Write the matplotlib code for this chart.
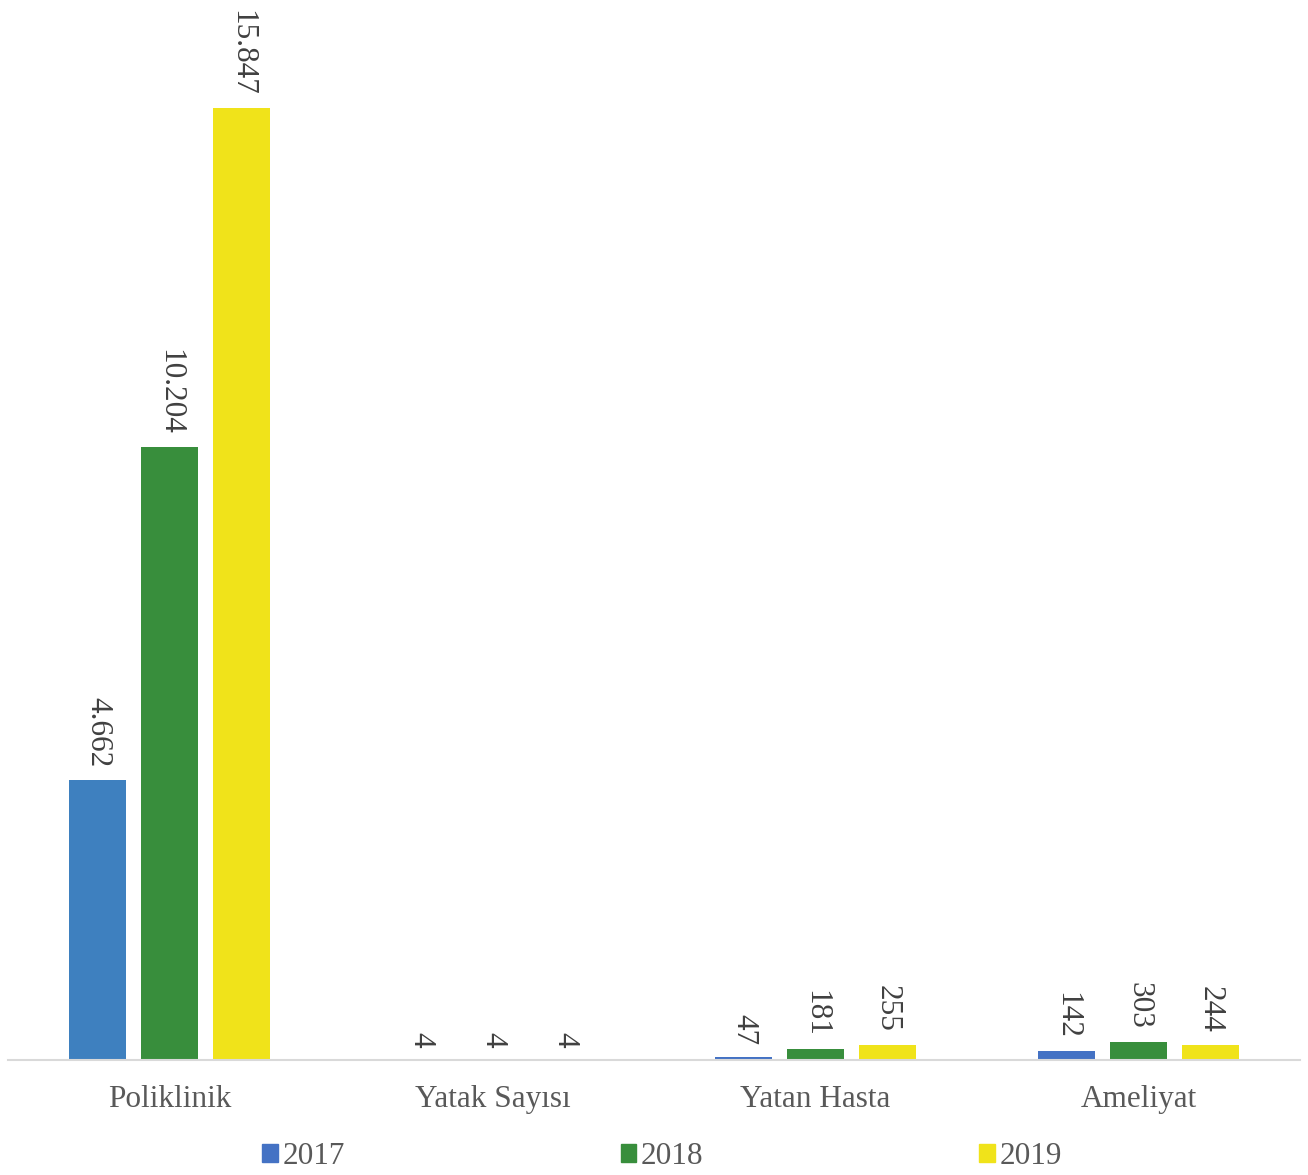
import numpy as np
import matplotlib
matplotlib.use("Agg")
import matplotlib.pyplot as plt

# data
categories = ["Poliklinik", "Yatak Sayısı", "Yatan Hasta", "Ameliyat"]
years = ["2017", "2018", "2019"]
values_2017 = [4662, 4, 47, 142]
values_2018 = [10204, 4, 181, 303]
values_2019 = [15847, 4, 255, 244]
series = [values_2017, values_2018, values_2019]

colors = ["#4472C4", "#388E3C", "#F0E31A"]
# the first blue bar is drawn in a slightly different shade in the original
bar_colors_2017 = ["#3E80BF", "#4472C4", "#4472C4", "#4472C4"]

plt.rcParams["font.family"] = ["Liberation Serif", "DejaVu Serif"]

fig = plt.figure(figsize=(13.08, 11.75), dpi=100)
ax = fig.add_axes([8 / 1308, 115 / 1175, 1292 / 1308, 1060 / 1175])

x = np.arange(len(categories))
width = 0.176
step = 0.223

for i, vals in enumerate(series):
    c = bar_colors_2017 if i == 0 else colors[i]
    bars = ax.bar(x + (i - 1) * step, vals, width, color=c, label=years[i], zorder=2)
    for b, v in zip(bars, vals):
        txt = f"{v:,}".replace(",", ".")
        ax.annotate(txt, (b.get_x() + b.get_width() / 2, b.get_height()),
                    xytext=(0, 9), textcoords="offset points",
                    rotation=270, ha="center", va="bottom",
                    fontsize=22.5, color="#404040")

ax.set_xlim(-0.5, 3.5)
ax.set_ylim(0, 17645)
ax.set_xticks(x)
ax.set_xticklabels(categories, fontsize=22.5, color="#595959")
ax.tick_params(axis="x", length=0, pad=18)
ax.set_yticks([])
for s in ["top", "right", "left"]:
    ax.spines[s].set_visible(False)
ax.spines["bottom"].set_color("#D9D9D9")
ax.spines["bottom"].set_linewidth(1.5)
ax.spines["bottom"].set_zorder(3)

# legend handles all use the plain series colours
handles = [plt.Rectangle((0, 0), 1, 1, color=c) for c in colors]
leg = fig.legend(handles, years, loc="lower left", ncol=3, mode="expand",
                 bbox_to_anchor=(262 / 1308, 0.003, 800 / 1308, 0.04),
                 frameon=False, fontsize=22.5, handlelength=0.5, handleheight=0.5,
                 handletextpad=0.15, borderaxespad=0, borderpad=0)
for t in leg.get_texts():
    t.set_color("#595959")

fig.savefig("out.png", dpi=100)
